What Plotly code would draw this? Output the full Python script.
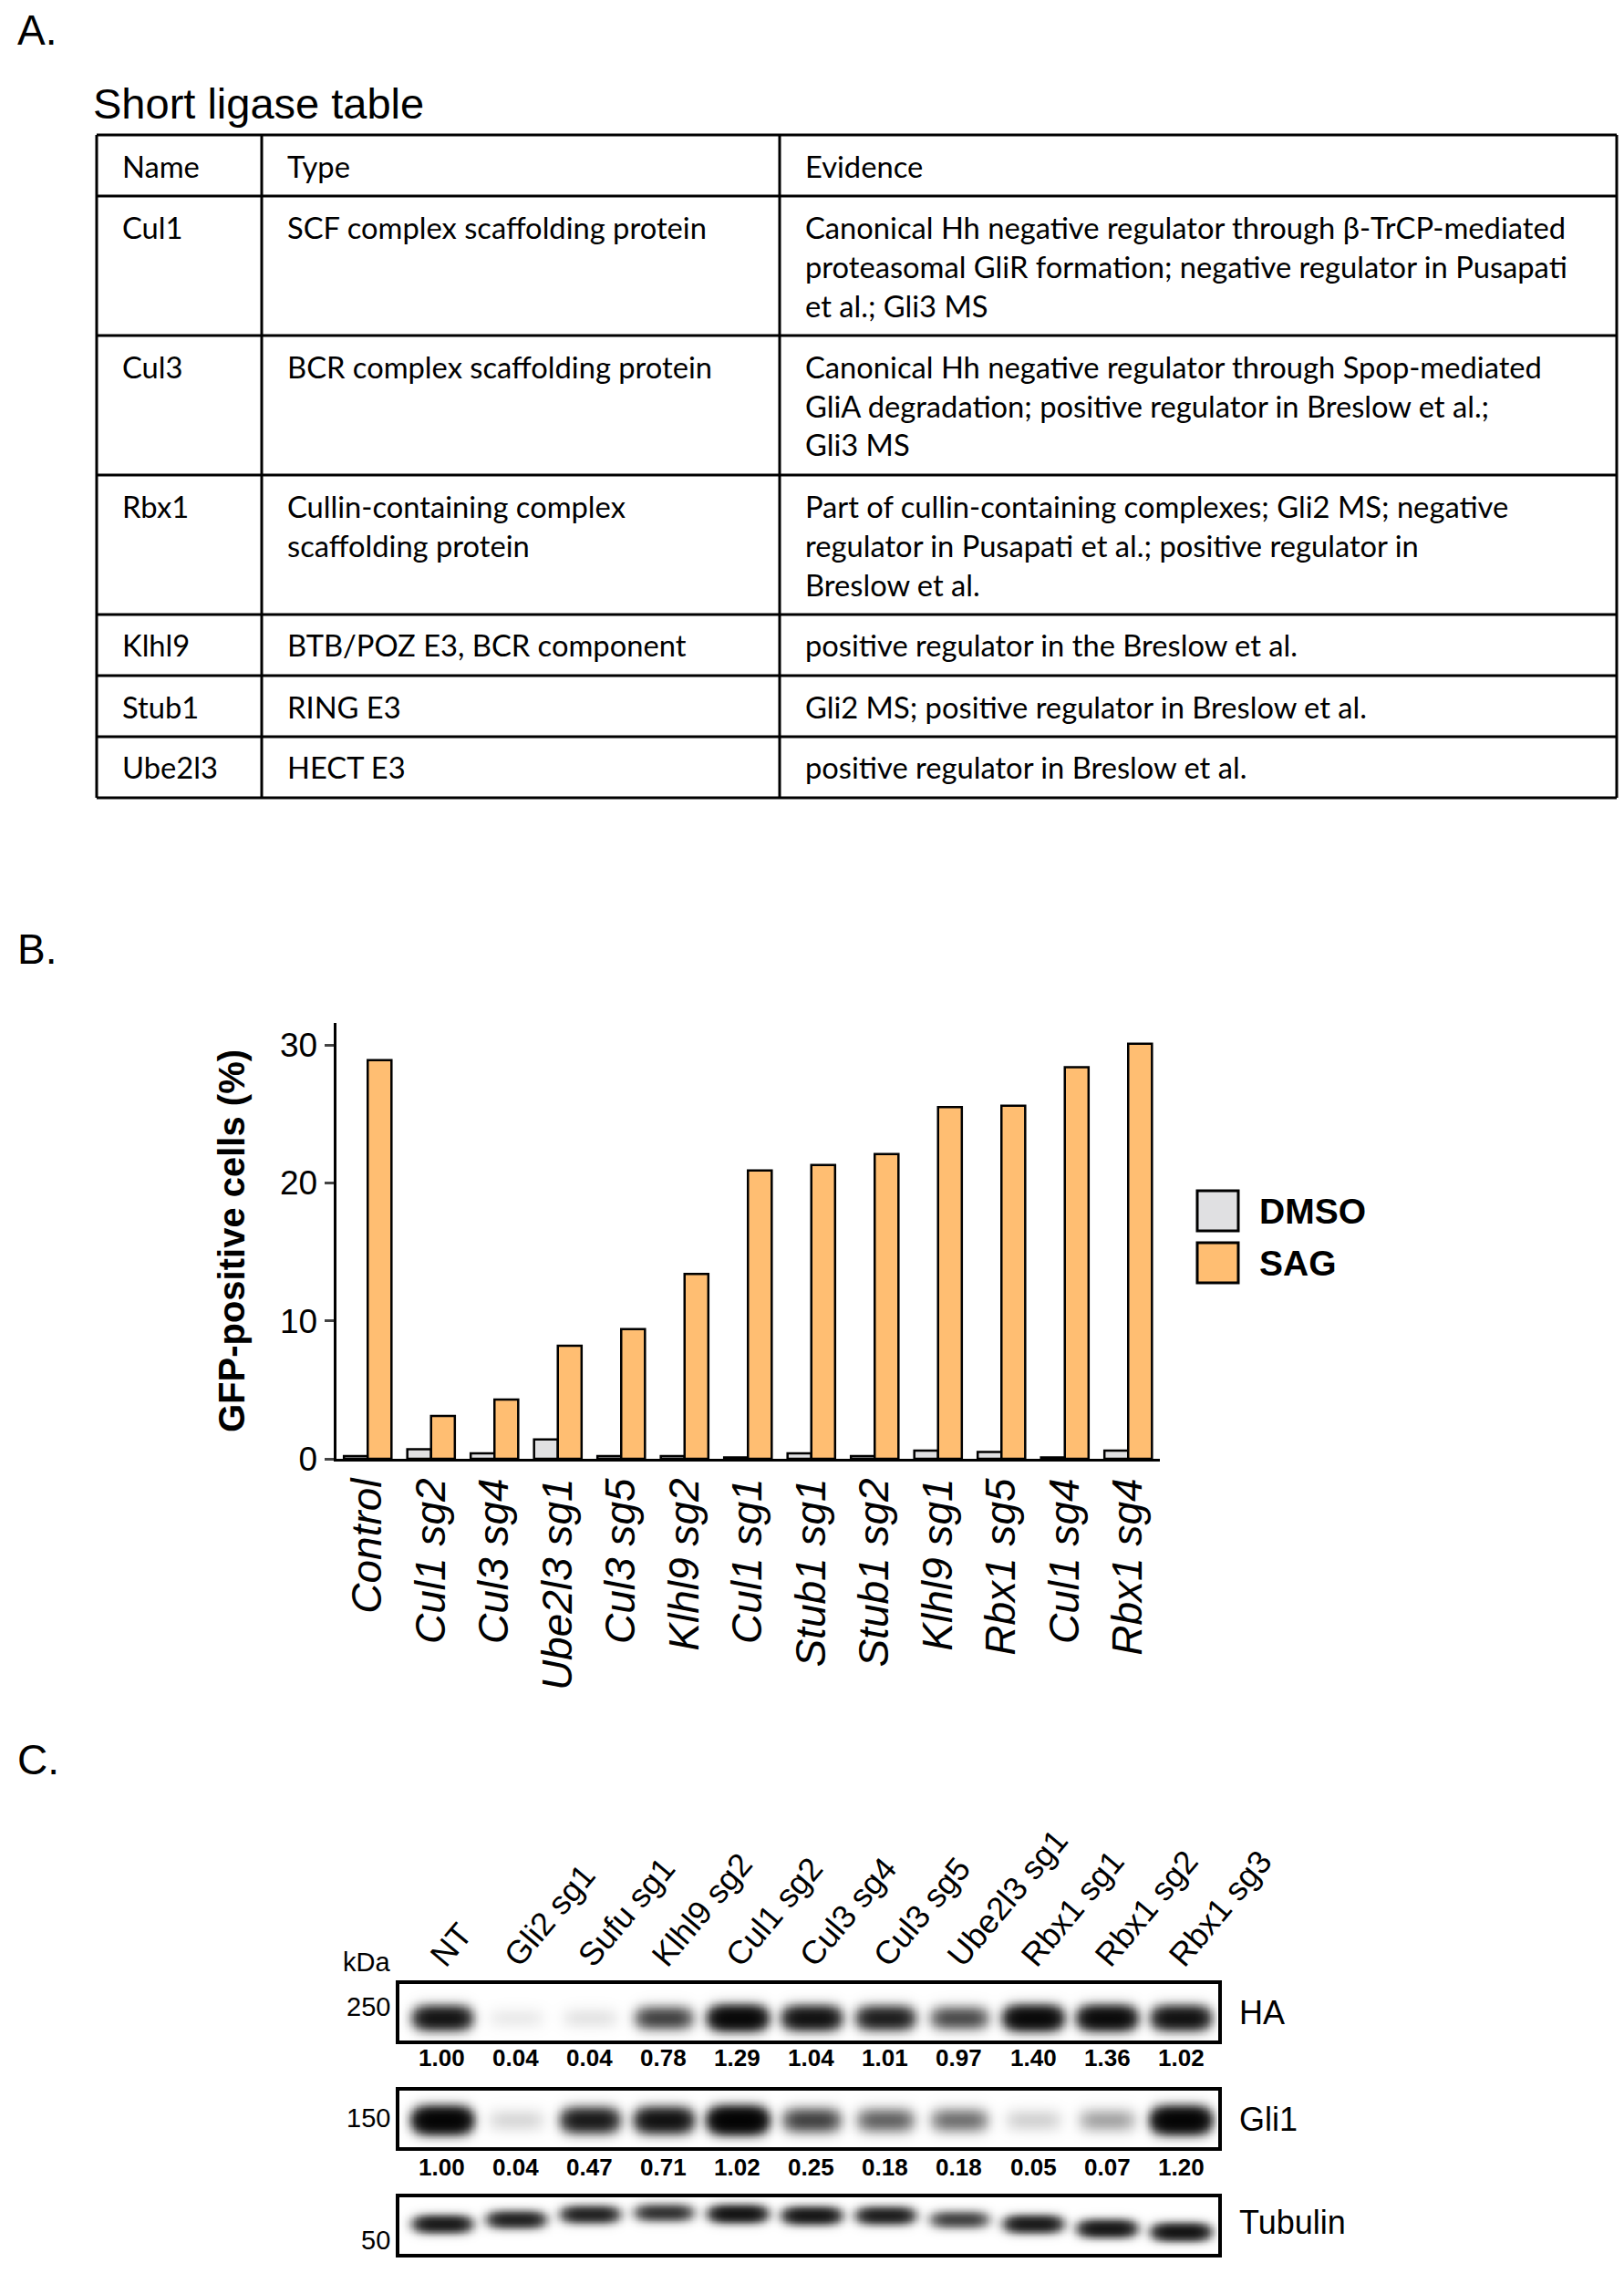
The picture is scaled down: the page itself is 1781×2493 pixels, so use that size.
import numpy as np
import plotly.graph_objects as go

W, H = 1781, 2493

def xp(px):
    return px / W

def yp(py):
    return 1 - py / H

# ---------------- Panel A : table data ----------------
table_title = "Short ligase table"
table_header = ["Name", "Type", "Evidence"]
names = ["Cul1", "Cul3", "Rbx1", "Klhl9", "Stub1", "Ube2l3"]
types = [
    "SCF complex scaffolding protein",
    "BCR complex scaffolding protein",
    "Cullin-containing complex\nscaffolding protein",
    "BTB/POZ E3, BCR component",
    "RING E3",
    "HECT E3",
]
evidence = [
    "Canonical Hh negative regulator through β-TrCP-mediated\nproteasomal GliR formation; negative regulator in Pusapati\net al.; Gli3 MS",
    "Canonical Hh negative regulator through Spop-mediated\nGliA degradation; positive regulator in Breslow et al.;\nGli3 MS",
    "Part of cullin-containing complexes; Gli2 MS; negative\nregulator in Pusapati et al.; positive regulator in\nBreslow et al.",
    "positive regulator in the Breslow et al.",
    "Gli2 MS; positive regulator in Breslow et al.",
    "positive regulator in Breslow et al.",
]

# ---------------- Panel B : bar data ----------------
guides = ["Control", "Cul1 sg2", "Cul3 sg4", "Ube2l3 sg1", "Cul3 sg5", "Klhl9 sg2",
          "Cul1 sg1", "Stub1 sg1", "Stub1 sg2", "Klhl9 sg1", "Rbx1 sg5", "Cul1 sg4", "Rbx1 sg4"]
dmso = [0.2, 0.7, 0.4, 1.4, 0.2, 0.2, 0.1, 0.4, 0.2, 0.6, 0.5, 0.1, 0.6]
sag = [28.9, 3.1, 4.3, 8.2, 9.4, 13.4, 20.9, 21.3, 22.1, 25.5, 25.6, 28.4, 30.1]
y_ticks = [0, 10, 20, 30]

# ---------------- Panel C : blot data ----------------
lanes = ["NT", "Gli2 sg1", "Sufu sg1", "Klhl9 sg2", "Cul1 sg2", "Cul3 sg4",
         "Cul3 sg5", "Ube2l3 sg1", "Rbx1 sg1", "Rbx1 sg2", "Rbx1 sg3"]
ha_quant = [1.00, 0.04, 0.04, 0.78, 1.29, 1.04, 1.01, 0.97, 1.40, 1.36, 1.02]
gli1_quant = [1.00, 0.04, 0.47, 0.71, 1.02, 0.25, 0.18, 0.18, 0.05, 0.07, 1.20]
# band darkness
ha_band = [0.95, 0.03, 0.04, 0.5, 1.3, 1.0, 0.8, 0.45, 1.25, 1.2, 1.0]
gli1_band = [1.5, 0.06, 0.85, 1.0, 1.6, 0.5, 0.35, 0.3, 0.07, 0.16, 1.5]
tub_band = [0.85, 0.75, 0.75, 0.6, 0.95, 0.9, 0.8, 0.5, 0.85, 0.9, 0.95]
# vertical band position inside each blot box (0 = bottom, 1 = top)
ha_pos = [0.40] * 11
gli1_pos = [0.48] * 11
tub_pos = [0.53, 0.61, 0.70, 0.73, 0.71, 0.68, 0.68, 0.61, 0.53, 0.45, 0.39]
kda_marks = ["250", "150", "50"]
blot_names = ["HA", "Gli1", "Tubulin"]

fig = go.Figure()

# ---------- Panel A : table drawing ----------
shapes = []
annotations = []
BASE = "Liberation Sans, Arial, sans-serif"
TFONT = "Lato, sans-serif"

annotations.append(dict(text="A.", x=xp(17), y=yp(33), xanchor="left", yanchor="middle",
                        font=dict(size=46, family=BASE)))
annotations.append(dict(text=table_title, x=xp(100), y=yp(113), xanchor="left", yanchor="middle",
                        font=dict(size=47, family=BASE)))

col_x = [106, 287, 855, 1773]
rows = [table_header] + [[n, t, e] for n, t, e in zip(names, types, evidence)]
row_top = 148
line_gap = 43
row_edges = [row_top]
for r in rows:
    nl = max(len(c.split("\n")) for c in r)
    for ci, cell in enumerate(r):
        for li, line in enumerate(cell.split("\n")):
            annotations.append(dict(text=line, x=xp(col_x[ci] + 26), y=yp(row_top + 34 + li * line_gap),
                                    xanchor="left", yanchor="middle",
                                    font=dict(size=32.7, family=TFONT)))
    row_top += 24 + line_gap * nl
    row_edges.append(row_top)

for ry in row_edges:
    shapes.append(dict(type="line", xref="paper", yref="paper", x0=xp(col_x[0]), x1=xp(col_x[-1]),
                       y0=yp(ry), y1=yp(ry), line=dict(color="black", width=3)))
for cx in col_x:
    shapes.append(dict(type="line", xref="paper", yref="paper", x0=xp(cx), x1=xp(cx),
                       y0=yp(row_edges[0]), y1=yp(row_edges[-1]), line=dict(color="black", width=3)))

# ---------- Panel B : bars ----------
annotations.append(dict(text="B.", x=xp(17), y=yp(1041), xanchor="left", yanchor="middle",
                        font=dict(size=46, family=BASE)))
DMSO_C = "#E0E0E2"
SAG_C = "#FFBE72"
fig.add_trace(go.Bar(x=guides, y=dmso, name="DMSO", marker=dict(color=DMSO_C, line=dict(color="black", width=2.5)),
                     xaxis="x", yaxis="y", showlegend=False))
fig.add_trace(go.Bar(x=guides, y=sag, name="SAG", marker=dict(color=SAG_C, line=dict(color="black", width=2.5)),
                     xaxis="x", yaxis="y", showlegend=False))

# legend (manual)
for (name, col, top) in [("DMSO", DMSO_C, 1306), ("SAG", SAG_C, 1363)]:
    shapes.append(dict(type="rect", xref="paper", yref="paper", x0=xp(1313), x1=xp(1358),
                       y0=yp(top + 44), y1=yp(top), fillcolor=col, line=dict(color="black", width=3)))
    annotations.append(dict(text="<b>%s</b>" % name, x=xp(1379), y=yp(top + 22), xanchor="left", yanchor="middle",
                            font=dict(size=39, family=BASE)))

# ---------- Panel C : blots ----------
annotations.append(dict(text="C.", x=xp(17), y=yp(1930), xanchor="left", yanchor="middle",
                        font=dict(size=46, family=BASE)))

gx = np.arange(-0.58, 10.5001, 0.02)
gy = np.linspace(0, 1, 81)

def blot_image(dark, pos, sig, halfw=0.37):
    X, Y = np.meshgrid(gx, gy)
    z = np.zeros_like(X)
    for i, (a, p) in enumerate(zip(dark, pos)):
        hx = np.exp(-np.abs((X - i) / halfw) ** 4)
        vy = np.exp(-((Y - p) / sig) ** 2)
        z += a * hx * vy
    z = 1 - np.exp(-2.6 * z)
    return np.round(z, 3)

blots = [
    (ha_band, ha_pos, 0.19, "x2", "y2"),
    (gli1_band, gli1_pos, 0.20, "x3", "y3"),
    (tub_band, tub_pos, 0.14, "x4", "y4"),
]
for dark, pos, sig, xa, ya in blots:
    fig.add_trace(go.Heatmap(x=gx, y=gy, z=blot_image(dark, pos, sig), zmin=0, zmax=1,
                             colorscale=[[0, "white"], [1, "black"]], showscale=False,
                             zsmooth="best", xaxis=xa, yaxis=ya, hoverinfo="skip"))

# quantification values
for i, v in enumerate(ha_quant):
    annotations.append(dict(text="<b>%.2f</b>" % v, xref="x2", x=i, y=yp(2257), yref="paper",
                            xanchor="center", yanchor="middle", showarrow=False,
                            font=dict(size=26, family=BASE)))
for i, v in enumerate(gli1_quant):
    annotations.append(dict(text="<b>%.2f</b>" % v, xref="x3", x=i, y=yp(2377), yref="paper",
                            xanchor="center", yanchor="middle", showarrow=False,
                            font=dict(size=26, family=BASE)))

for name, cy in zip(blot_names, [2207, 2324, 2437]):
    annotations.append(dict(text=name, x=xp(1357), y=yp(cy), xanchor="left", yanchor="middle",
                            font=dict(size=36, family=BASE)))
annotations.append(dict(text="kDa", x=xp(430), y=yp(2152), xanchor="right", yanchor="middle",
                        font=dict(size=29, family=BASE)))
for m, cy in zip(kda_marks, [2201, 2323, 2457]):
    annotations.append(dict(text=m, x=xp(430), y=yp(cy), xanchor="right", yanchor="middle",
                            font=dict(size=29, family=BASE)))

for a in annotations:
    a.setdefault("xref", "paper")
    a.setdefault("yref", "paper")
    a.setdefault("showarrow", False)

blot_x = [xp(438), xp(1335.5)]
blot_axis = dict(range=[-0.58, 10.5], showline=True, mirror=True, linewidth=4, linecolor="black",
                 showgrid=False, zeroline=False, ticks="", fixedrange=True, automargin=False)
blot_yaxis = dict(range=[0, 1], showline=True, mirror=True, linewidth=4, linecolor="black",
                  showgrid=False, zeroline=False, ticks="", showticklabels=False, automargin=False)

fig.update_layout(
    template="none",
    width=W, height=H, autosize=False,
    margin=dict(l=0, r=0, t=0, b=0, pad=0, autoexpand=False),
    paper_bgcolor="white", plot_bgcolor="white",
    font=dict(family=BASE, color="black"),
    barmode="group", bargap=0.25, bargroupgap=0,
    showlegend=False,
    xaxis=dict(domain=[xp(368.5), xp(1272)], anchor="y", showline=True, linewidth=3, linecolor="black",
               ticks="", tickangle=-90, tickfont=dict(size=46, style="italic", family=BASE),
               ticklabelstandoff=0, showgrid=False, range=[-0.5, 12.5], automargin=False),
    yaxis=dict(domain=[yp(1600), yp(1122)], anchor="x", range=[0, 31.6], tickvals=y_ticks,
               showline=True, linewidth=3, linecolor="black", ticks="outside", ticklen=10, tickwidth=3,
               tickfont=dict(size=37), showgrid=False, zeroline=False, automargin=False,
               title=dict(text="<b>GFP-positive cells (%)</b>", font=dict(size=40), standoff=26)),
    xaxis2=dict(blot_axis, domain=blot_x, anchor="y2", side="top", tickvals=list(range(len(lanes))),
                ticktext=lanes, tickangle=-50, tickfont=dict(size=36), ticklabelstandoff=-8,
                ticklabelshift=-10, showticklabels=True),
    yaxis2=dict(blot_yaxis, domain=[yp(2238), yp(2176)], anchor="x2"),
    xaxis3=dict(blot_axis, domain=blot_x, anchor="y3", showticklabels=False),
    yaxis3=dict(blot_yaxis, domain=[yp(2355), yp(2293)], anchor="x3"),
    xaxis4=dict(blot_axis, domain=blot_x, anchor="y4", showticklabels=False),
    yaxis4=dict(blot_yaxis, domain=[yp(2472), yp(2410)], anchor="x4"),
    shapes=shapes,
    annotations=annotations,
)

fig.write_html("out.html", config={"displayModeBar": False, "responsive": False},
               post_script="document.body.style.margin='0px';document.body.style.overflow='hidden';")
